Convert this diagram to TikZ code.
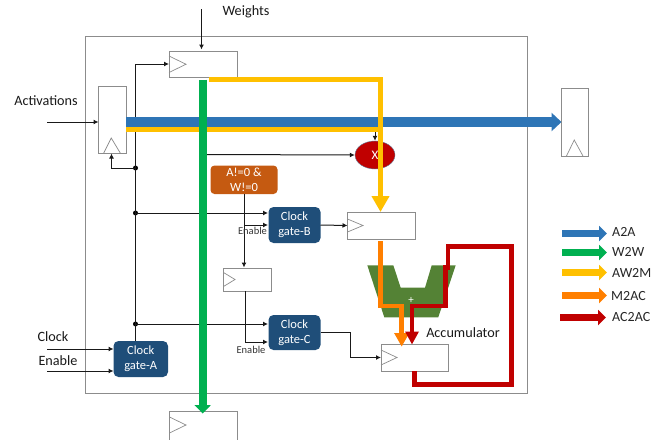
\documentclass[tikz,border=0pt]{standalone}
\usepackage{fontspec}
\setmainfont{Carlito}
\usetikzlibrary{arrows.meta,shapes.geometric}
\definecolor{cblue}{HTML}{2E75B6}
\definecolor{cgreen}{HTML}{00B050}
\definecolor{cyellow}{HTML}{FFC000}
\definecolor{corange}{HTML}{FF7F00}
\definecolor{cred}{HTML}{C00000}
\definecolor{cgate}{HTML}{1F4E79}
\definecolor{cand}{HTML}{C55A11}
\definecolor{cadd}{HTML}{548235}
\definecolor{cedge}{HTML}{8C8C8C}
\tikzset{
  ffbox/.style={draw=cedge,fill=white,line width=0.9pt,inner sep=0pt,outer sep=0pt},
  clocktri/.style={draw=cedge,line width=0.7pt},
  gatebox/.style={rounded corners=5pt,fill=cgate,text=white,inner sep=0pt,outer sep=0pt,minimum width=53pt,minimum height=36pt,align=center,font=\fontsize{12.5}{15}\selectfont},
  wire/.style={draw=black!90,line width=1pt},
  wirearrow/.style={wire,-{Latex[length=5pt,width=5pt]}},
  dotnode/.style={circle,fill=black,inner sep=0pt,minimum size=5pt},
  lbl/.style={text=black!90,inner sep=0pt,font=\fontsize{14.2}{16}\selectfont},
  smalllbl/.style={text=black!80,inner sep=0pt,font=\fontsize{10.5}{12}\selectfont},
  legendlbl/.style={text=black!85,anchor=west,inner sep=0pt,font=\fontsize{14}{16}\selectfont},
  thick path/.style={line width=#1,line join=miter,line cap=butt},
  legendarrow/.style={line width=7pt,-{Triangle[width=15pt,length=8pt]}}
}
\begin{document}
\begin{tikzpicture}[x=1pt,y=-1pt]
\clip (0,0) rectangle (669,439);
% outer block
\node[draw=cedge,line width=0.9pt,inner sep=0pt,minimum width=442pt,minimum height=357pt] (outer) at (306,214.5) {};
% registers
\node[ffbox,minimum width=68pt,minimum height=26.5pt] (ffW) at (203,64.25) {};
\node[ffbox,minimum width=27.5pt,minimum height=66.5pt] (ffA) at (112.25,119.75) {};
\node[ffbox,minimum width=26.5pt,minimum height=68.5pt] (ffR) at (574.75,122.25) {};
\node[ffbox,minimum width=67.5pt,minimum height=50pt] (ffD) at (203.25,436.5) {};
\node[ffbox,minimum width=67.5pt,minimum height=27pt] (ffB) at (381.25,225.5) {};
\node[ffbox,minimum width=48pt,minimum height=23pt] (ffS) at (247.5,279.5) {};
\node[ffbox,minimum width=67pt,minimum height=27pt] (ffC) at (414.5,357.5) {};
% clock triangles
\draw[clocktri] (ffW.west)++(0,-8.25) -- ++(17,8.25) -- ++(-17,8.25);
\draw[clocktri] (ffD.west)++(0,-19.5) -- ++(16.5,8) -- ++(-16.5,8);
\draw[clocktri] (ffB.west)++(0,-6.5) -- ++(15.5,6.5) -- ++(-15.5,6.5);
\draw[clocktri] (ffS.west)++(0,-7) -- ++(11.5,7) -- ++(-11.5,7);
\draw[clocktri] (ffC.west)++(0,-7.5) -- ++(16,7.5) -- ++(-16,7.5);
\draw[clocktri] (ffA.south)++(-8.5,0) -- ++(7.5,-15) -- ++(9,15);
\draw[clocktri] (ffR.south)++(-8.5,0) -- ++(8,-16.5) -- ++(9,16.5);
% operators
\node[ellipse,fill=cred,draw=cgate!70,line width=0.4pt,minimum width=40pt,minimum height=28pt,inner sep=0pt,text=white,font=\fontsize{13}{15}\selectfont] (mult) at (375,155) {X};
\node[rounded corners=4pt,fill=cand,text=white,inner sep=0pt,outer sep=0pt,minimum width=67pt,minimum height=28.5pt,align=center,font=\fontsize{12.5}{15.5}\selectfont] (andbox) at (244,179.75) {A!=0 \&\\W!=0};
\node[gatebox,minimum width=52pt] (gateB) at (294.5,225) {Clock\\gate-B};
\node[gatebox,minimum width=52pt,minimum height=35pt] (gateC) at (294.5,332.5) {Clock\\gate-C};
\node[gatebox,minimum width=54.5pt] (gateA) at (140.75,359) {Clock\\gate-A};
\fill[cadd] (367.3,265.3) -- (393.3,265.3) -- (400.7,287.7) -- (425,287.7) -- (431.7,265.3) -- (455.7,265.3) -- (438.3,317.3) -- (384.3,317.3) -- cycle;
\node[text=white,inner sep=0pt,font=\fontsize{11}{12}\selectfont] (plus) at (411,300) {+};
% free ends and junctions
\coordinate (wIn) at (201.5,9);
\coordinate (aIn) at (47,122);
\coordinate (clkIn) at (47,349);
\coordinate (enIn) at (47,371);
\coordinate (busTop) at (135.5,64);
\node[dotnode] (dotA) at (135.5,168) {};
\node[dotnode] (dotB) at (135.5,213) {};
\node[dotnode] (dotC) at (135.5,324) {};
\coordinate (enB) at (244,225);
\coordinate (greenTap) at (207,154.5);
% wires
\draw[wirearrow] (wIn) -- (201.5,49.5);
\draw[wirearrow] (aIn) -- (ffA.west |- aIn);
\draw[wire] (135.5,341) -- (busTop);
\draw[wirearrow] (busTop) -- (169,64);
\draw[wirearrow] (dotA.center) -- (111.5,168) -- (111.5,153.5);
\draw[wirearrow] (dotB.center) -- (268,213);
\draw[wirearrow] (dotC.center) -- (268,324);
\draw[wirearrow] (greenTap) -- (mult.west);
\draw[wirearrow] (375,131) -- (mult.north);
\draw[wirearrow] (244,194) -- (244,267.5);
\draw[wirearrow] (enB) -- (268,225);
\draw[wirearrow] (245,291) -- (245,342) -- (268,342);
\draw[wirearrow] (gateB.east) -- (ffB.west);
\draw[wirearrow] (gateC.east) -- (350.5,332.5) -- (350.5,357.5) -- (ffC.west);
\draw[wirearrow] (clkIn) -- (gateA.west |- clkIn);
\draw[wirearrow] (enIn) -- (gateA.west |- enIn);
% thick routes
\draw[cblue,thick path=9.5pt,-{Triangle[width=18pt,length=10pt]}] (ffA.east |- 0,122) -- (ffR.west |- 0,122);
\draw[cyellow,thick path=5pt] (ffA.east |- 0,129) -- (382.5,129);
\draw[cyellow,thick path=5pt,-{Triangle[width=17pt,length=16pt]}] (209,79.5) -- (380.5,79.5) -- (380.5,212);
\draw[cgreen,thick path=8pt,-{Triangle[width=16pt,length=8.5pt]}] (202.7,79.5) -- (202.7,413.5);
\draw[corange,thick path=4.5pt,-{Triangle[width=14pt,length=13.5pt]}] (380.3,241) -- (380.3,306) -- (401.7,306) -- (401.7,346.7);
\draw[cred,thick path=4.5pt,-{Triangle[width=13pt,length=13pt]}] (414.7,371) -- (414.7,384.7) -- (511.7,384.7) -- (511.7,246.7) -- (448,246.7) -- (448,267.7) -- (445.7,267.7) -- (445.7,306) -- (412,306) -- (412,344.5);
% labels
\node[lbl] (tWeights) at (246,12) {Weights};
\node[lbl] (tActiv) at (46,101) {Activations};
\node[lbl] (tClock) at (53,337) {Clock};
\node[lbl] (tEnable) at (58,361) {Enable};
\node[lbl] (tAcc) at (463,333) {Accumulator};
\node[smalllbl] (tEnB) at (252.5,231) {Enable};
\node[smalllbl] (tEnC) at (251,349.5) {Enable};
% legend
\coordinate (l1a) at (562,233.5); \coordinate (l1b) at (607,233.5);
\coordinate (l2a) at (562,252.5); \coordinate (l2b) at (607,252.5);
\coordinate (l3a) at (562,272.5); \coordinate (l3b) at (607,272.5);
\coordinate (l4a) at (562,295.5); \coordinate (l4b) at (607,295.5);
\coordinate (l5a) at (560,317.5); \coordinate (l5b) at (606,317.5);
\draw[cblue,legendarrow] (l1a) -- (l1b);
\draw[cgreen,legendarrow] (l2a) -- (l2b);
\draw[cyellow,legendarrow] (l3a) -- (l3b);
\draw[corange,legendarrow] (l4a) -- (l4b);
\draw[cred,legendarrow] (l5a) -- (l5b);
\node[legendlbl] (t1) at (612,232) {A2A};
\node[legendlbl] (t2) at (612,252) {W2W};
\node[legendlbl] (t3) at (612,273) {AW2M};
\node[legendlbl] (t4) at (611,296) {M2AC};
\node[legendlbl] (t5) at (612,317) {AC2AC};
\end{tikzpicture}
\end{document}
